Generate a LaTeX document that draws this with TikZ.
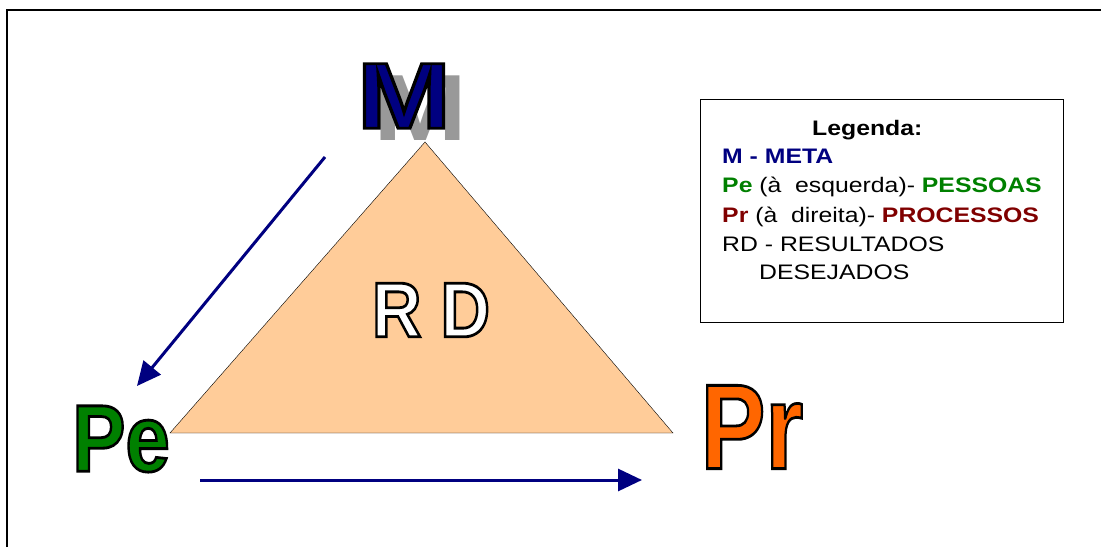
\documentclass[tikz,border=0pt]{standalone}
\usepackage{fontspec}
\setmainfont{Liberation Sans}
\usetikzlibrary{arrows.meta}
\definecolor{metablue}{RGB}{0,0,128}
\definecolor{pessoasgreen}{RGB}{0,128,0}
\definecolor{processosred}{RGB}{128,0,0}
\definecolor{prorange}{RGB}{255,102,0}
\definecolor{peach}{RGB}{255,204,153}
\definecolor{shadowgray}{RGB}{153,153,153}
% outlined letters (fill, then black stroke)
\newcommand{\outlined}[1]{\special{pdf:literal direct 2 Tr 2.8 w 0 0 0 RG}#1\special{pdf:literal direct 0 Tr}}
\begin{document}
\begin{tikzpicture}[x=1pt,y=1pt,
  bigletter/.style={inner sep=0pt,font=\fontsize{#1}{#1}\selectfont\bfseries},
  legline/.style={anchor=base west,inner sep=0pt,xscale=1.18,font=\fontsize{21}{21}\selectfont},
  navyarrow/.style={draw=metablue,line width=3pt,-{Triangle[length=24pt,width=22pt]}}]
\useasboundingbox (0,0) rectangle (1101,547);
% frame:
\path[draw=black,line width=1.5pt] (7,0) -- (7,537) -- (1101,537);
% triangle:
\coordinate (top) at (425,405);
\coordinate (left) at (170,114);
\coordinate (right) at (673,114);
\path[draw=black,fill=peach] (top) -- (left) -- (right) -- cycle;
% letters:
\node[bigletter=94,xscale=1.2,text=shadowgray] (Mshadow) at (420,439) {M};
\node[bigletter=94,xscale=1.2,text=metablue] (M) at (404,451) {\outlined{M}};
\node[bigletter=95,xscale=0.84,text=pessoasgreen] (Pe) at (121,108) {\outlined{Pe}};
\node[bigletter=121,xscale=0.8,text=prorange] (Pr) at (752,120) {\outlined{Pr}};
\node[bigletter=78,xscale=0.88,text=white] (RD) at (431,237) {\outlined{R D}};
% arrows:
\coordinate (a1) at (325,390);
\coordinate (b1) at (137,161);
\coordinate (a2) at (200,67);
\coordinate (b2) at (642,67);
\path[navyarrow] (a1) -- (b1);
\path[navyarrow] (a2) -- (b2);
% legend:
\path[draw=black,line width=1pt] (700,224) rectangle (1063,447);
\node[legline,font=\fontsize{21}{21}\selectfont\bfseries] (leg0) at (812,411) {Legenda:};
\node[legline,text=metablue,font=\fontsize{21}{21}\selectfont\bfseries] (leg1) at (722,383) {M - META};
\node[legline] (leg2) at (722,354) {\textcolor{pessoasgreen}{\bfseries Pe} (à\ \ esquerda)- \textcolor{pessoasgreen}{\bfseries PESSOAS}};
\node[legline] (leg3) at (722,324) {\textcolor{processosred}{\bfseries Pr} (à\ \ direita)- \textcolor{processosred}{\bfseries PROCESSOS}};
\node[legline] (leg4) at (722,295) {RD - RESULTADOS};
\node[legline] (leg5) at (759,267) {DESEJADOS};
\end{tikzpicture}
\end{document}
